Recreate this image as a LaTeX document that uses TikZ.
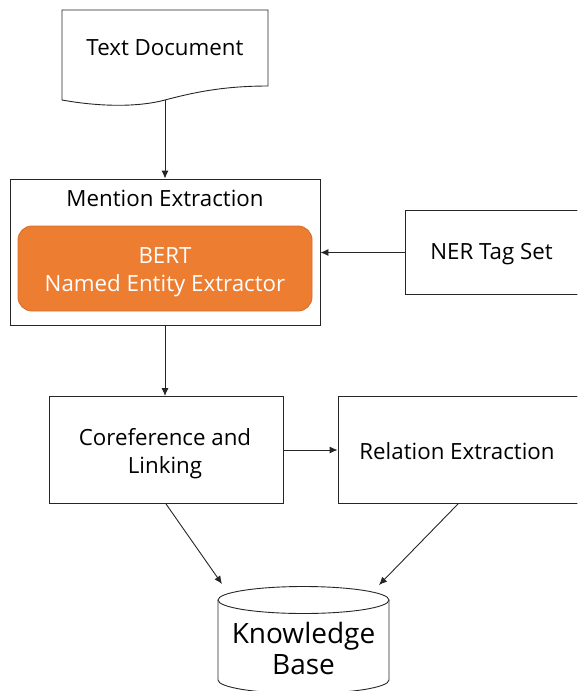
\documentclass[tikz,border=0pt]{standalone}
\usepackage{fontspec}
\setmainfont{Open Sans}
\usetikzlibrary{arrows.meta}

\definecolor{bertorange}{HTML}{ED7D31}
\definecolor{bertedge}{HTML}{D8702A}

\begin{document}
\begin{tikzpicture}[x=1pt,y=-1pt,
    >={Latex[length=8pt,width=7pt]},
    line width=0.9pt, draw=black!85,
    label font/.style={font=\fontsize{22.3}{28.5}\selectfont},
    stage/.style={draw=black!85, fill=white, align=center, inner sep=0pt},
    bert box/.style={draw=bertedge, fill=bertorange, rounded corners=14pt, inner sep=0pt},
    caption/.style={align=center, label font},
    flow/.style={->, draw=black!85}]

  \useasboundingbox (0,0) rectangle (578,691);
  \clip (0,0) rectangle (577.4,691);

  %Document%
  \draw[fill=white] (62,100) -- (62,10) -- (268,10) -- (268,86)
    .. controls (225,86) and (195,92) .. (165,100)
    .. controls (135,108) and (95,106) .. cycle;
  \node[caption] (doc) at (165,47.5) {Text Document};
  \coordinate (docbot) at (165,100);

  %Mention extraction%
  \node[stage, minimum width=310pt, minimum height=146pt] (mention) at (165,252) {};
  \node[caption] (mentiontitle) at (165,198.5) {Mention Extraction};
  \node[bert box, minimum width=294pt, minimum height=85pt] (bert) at (165,268.5) {};
  \node[caption, text=white] (berttext) at (165,272) {BERT\\Named Entity Extractor};

  \node[stage, minimum width=173pt, minimum height=84pt] (ner) at (491.5,252.5) {};
  \node[caption] (nertext) at (491.5,254) {NER Tag Set};

  %Coreference and relations%
  \node[stage, minimum width=234pt, minimum height=107pt] (coref) at (166,450) {};
  \node[caption] (coreftext) at (165,453.5) {Coreference and\\Linking};
  \node[stage, minimum width=240pt, minimum height=107pt] (rel) at (458,450) {};
  \node[caption] (reltext) at (457,451.5) {Relation Extraction};

  %Knowledge base%
  \draw[fill=white] (218,600) -- (218,680)
    arc[start angle=180, end angle=0, x radius=85.5, y radius=13.5] -- (389,600);
  \draw[fill=white] (303.5,600) ellipse [x radius=85.5, y radius=13.5];
  \node[align=center, font=\fontsize{28}{31}\selectfont] (kb) at (303.5,648)
    {Knowledge\\Base};
  \coordinate (kbleft) at (222,584);
  \coordinate (kbright) at (379,585);

  %Arrows%
  \draw[flow] (docbot) -- (mention.north);
  \draw[flow] (ner.west) -- (mention.east |- ner.west);
  \draw[flow] (mention.south) -- (mention.south |- coref.north);
  \draw[flow] (coref.east) -- (rel.west);
  \draw[flow] (coref.south) -- (kbleft);
  \draw[flow] (rel.south) -- (kbright);
\end{tikzpicture}
\end{document}
